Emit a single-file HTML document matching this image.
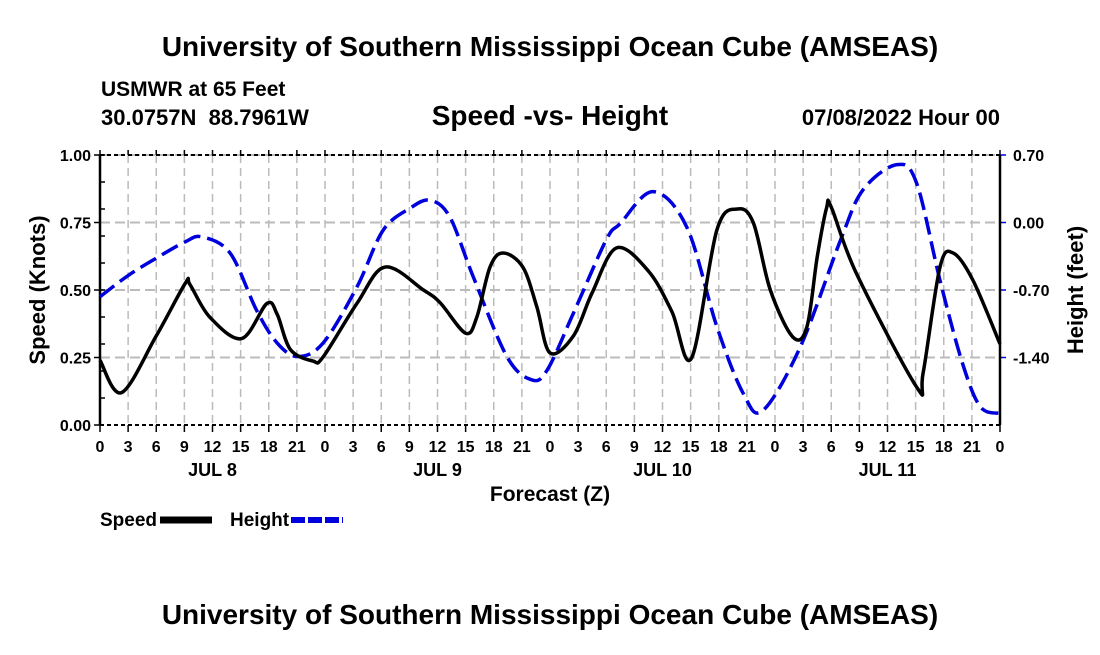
<!DOCTYPE html>
<html><head><meta charset="utf-8"><style>
body{margin:0;background:#fff;}
svg text{font-family:"Liberation Sans",Arial,sans-serif;font-weight:bold;fill:#000;}
</style></head><body>
<svg width="1100" height="650" viewBox="0 0 1100 650">
<text x="550" y="56" font-size="28" text-anchor="middle">University of Southern Mississippi Ocean Cube (AMSEAS)</text>
<text x="101" y="96" font-size="21">USMWR at 65 Feet</text>
<text x="101" y="125" font-size="22" xml:space="preserve">30.0757N  88.7961W</text>
<text x="550" y="125" font-size="28" text-anchor="middle">Speed -vs- Height</text>
<text x="1000" y="125" font-size="22" text-anchor="end">07/08/2022 Hour 00</text>
<g id="grid"></g>
<g id="axes"></g>
<g id="series"></g>
<text transform="translate(45,290) rotate(-90)" font-size="22" text-anchor="middle">Speed (Knots)</text>
<text transform="translate(1083,290) rotate(-90)" font-size="22" text-anchor="middle">Height (feet)</text>
<text x="550" y="501" font-size="21" text-anchor="middle">Forecast (Z)</text>
<g>
<text x="100" y="526" font-size="19">Speed</text>
<line x1="160" y1="520" x2="212" y2="520" stroke="#000" stroke-width="7"/>
<text x="230" y="526" font-size="19">Height</text>
<line x1="291" y1="520" x2="343" y2="520" stroke="#0000dd" stroke-width="6" stroke-dasharray="14,3"/>
</g>
<text x="550" y="624" font-size="28" text-anchor="middle">University of Southern Mississippi Ocean Cube (AMSEAS)</text>
</svg>
<script>
const speedHours=[0,2.3,6,9.1,9.6,11.7,15.1,17.8,18.9,20.3,22.7,23.8,27.4,30.4,34.5,36.3,39,40.2,41.6,43,45.1,46.6,48,50.5,52.5,55.1,58.5,61,63.1,65.8,68,69.7,71.5,73.9,75.4,76.5,77.5,78,80.7,87.1,87.8,89.6,91,93.1,96];
const speedValues=[0.24,0.12,0.33,0.525,0.52,0.40,0.32,0.45,0.41,0.28,0.237,0.252,0.45,0.585,0.50,0.452,0.34,0.40,0.585,0.637,0.585,0.437,0.267,0.33,0.49,0.656,0.57,0.42,0.248,0.722,0.80,0.748,0.50,0.326,0.363,0.622,0.804,0.807,0.56,0.141,0.193,0.585,0.637,0.537,0.30];
const heightHours=[0,3,6,9.1,10.9,13.9,16.7,18.9,21.1,23.8,27.4,30.2,33.1,35.2,37.3,39.8,43.4,46,47.7,50.5,54,55.5,59,62.6,65.8,68.6,70.7,74.7,79,81.4,85,87.1,89.6,92,93.9,96];
const heightValues=[-0.77,-0.55,-0.37,-0.20,-0.15,-0.32,-0.91,-1.25,-1.39,-1.25,-0.67,-0.08,0.15,0.23,0.06,-0.56,-1.39,-1.63,-1.53,-0.94,-0.18,-0.01,0.32,-0.05,-1.08,-1.77,-1.95,-1.29,-0.18,0.34,0.60,0.41,-0.60,-1.46,-1.91,-1.98];
const xTickLabels=["0","3","6","9","12","15","18","21","0","3","6","9","12","15","18","21","0","3","6","9","12","15","18","21","0","3","6","9","12","15","18","21","0"];
const dayLabels=["JUL 8","JUL 9","JUL 10","JUL 11"];
const leftTicks=[0,0.25,0.5,0.75,1.0];
const rightTicks=[0.70,0.00,-0.70,-1.40];

const NS="http://www.w3.org/2000/svg";
const X0=100,X1=1000,Y0=425,Y1=155;
const xs=h=>X0+(h/96)*(X1-X0);
const ys=s=>Y0-(s/1.0)*(Y0-Y1);
const yh=f=>ys(f/2.8+0.75);
function mk(tag,attrs,parent){const e=document.createElementNS(NS,tag);for(const k in attrs)e.setAttribute(k,attrs[k]);parent.appendChild(e);return e;}
const grid=document.getElementById('grid'),axes=document.getElementById('axes'),series=document.getElementById('series');

for(let i=0;i<xTickLabels.length;i++){
  const x=xs(i*3);
  if(i>0&&i<xTickLabels.length-1){const g=mk('line',{x1:x,y1:Y1,x2:x,y2:Y0,stroke:'#bbb','stroke-width':1.5,'stroke-dasharray':'8,5'},grid);
  
  }
  const t=mk('line',{x1:x,y1:Y0,x2:x,y2:Y0+7,stroke:'#000','stroke-width':1.5},axes);
  
  
  const tt=mk('line',{x1:x,y1:Y1,x2:x,y2:Y1-5,stroke:'#000','stroke-width':1.5},axes);
  
  
  const l=mk('text',{x:x,y:452,'font-size':16,'text-anchor':'middle'},axes);l.textContent=xTickLabels[i];
  
  
}
dayLabels.forEach((d,i)=>{const l=mk('text',{x:xs(12+24*i),y:476,'font-size':18,'text-anchor':'middle'},axes);l.textContent=d;
  
  });
leftTicks.forEach(v=>{const y=ys(v);
  if(v>0){const g=mk('line',{x1:X0,y1:y,x2:X1,y2:y,stroke:'#bbb','stroke-width':2,'stroke-dasharray':'10,5'},grid);
  
  }
  const t=mk('line',{x1:X0-6,y1:y,x2:X0,y2:y,stroke:'#000','stroke-width':1.5},axes);
  
  
  const l=mk('text',{x:X0-9,y:y+6,'font-size':16,'text-anchor':'end'},axes);l.textContent=v.toFixed(2);
  
  });
for(let v=0.1;v<1;v+=0.1){const y=ys(v);const t=mk('line',{x1:X0,y1:y,x2:X0+5,y2:y,stroke:'#000','stroke-width':1.5},axes);
  
  }
rightTicks.forEach(v=>{const y=yh(v);
  const t=mk('line',{x1:X1,y1:y,x2:X1+6,y2:y,stroke:'#0000dd','stroke-width':1.5},axes);
  
  
  const l=mk('text',{x:X1+13,y:y+6,'font-size':16},axes);l.textContent=v.toFixed(2);
  
  });
let f=mk('line',{x1:X0,y1:Y1,x2:X1,y2:Y1,stroke:'#000','stroke-width':2,'stroke-dasharray':'4,3'},axes);


f=mk('line',{x1:X0,y1:Y0,x2:X1,y2:Y0,stroke:'#000','stroke-width':2,'stroke-dasharray':'4,3'},axes);


f=mk('line',{x1:X0,y1:Y1,x2:X0,y2:Y0,stroke:'#000','stroke-width':2.5},axes);


f=mk('line',{x1:X1,y1:Y1,x2:X1,y2:Y0,stroke:'#000','stroke-width':2.5},axes);



function smooth(pts){let d='M'+pts[0][0]+','+pts[0][1];
  for(let i=0;i<pts.length-1;i++){const p0=pts[Math.max(0,i-1)],p1=pts[i],p2=pts[i+1],p3=pts[Math.min(pts.length-1,i+2)];
    const c1=[p1[0]+(p2[0]-p0[0])/6,p1[1]+(p2[1]-p0[1])/6],c2=[p2[0]-(p3[0]-p1[0])/6,p2[1]-(p3[1]-p1[1])/6];
    d+=' C'+c1+' '+c2+' '+p2;}return d;}
const hp=heightHours.map((h,i)=>[xs(h),yh(heightValues[i])]);
const hl=mk('path',{d:smooth(hp),fill:'none',stroke:'#0000dd','stroke-width':3.5,'stroke-dasharray':'18,7'},series);


const sp=speedHours.map((h,i)=>[xs(h),ys(speedValues[i])]);
const sl=mk('path',{d:smooth(sp),fill:'none',stroke:'#000','stroke-width':3.5},series);


</script>
</body></html>
